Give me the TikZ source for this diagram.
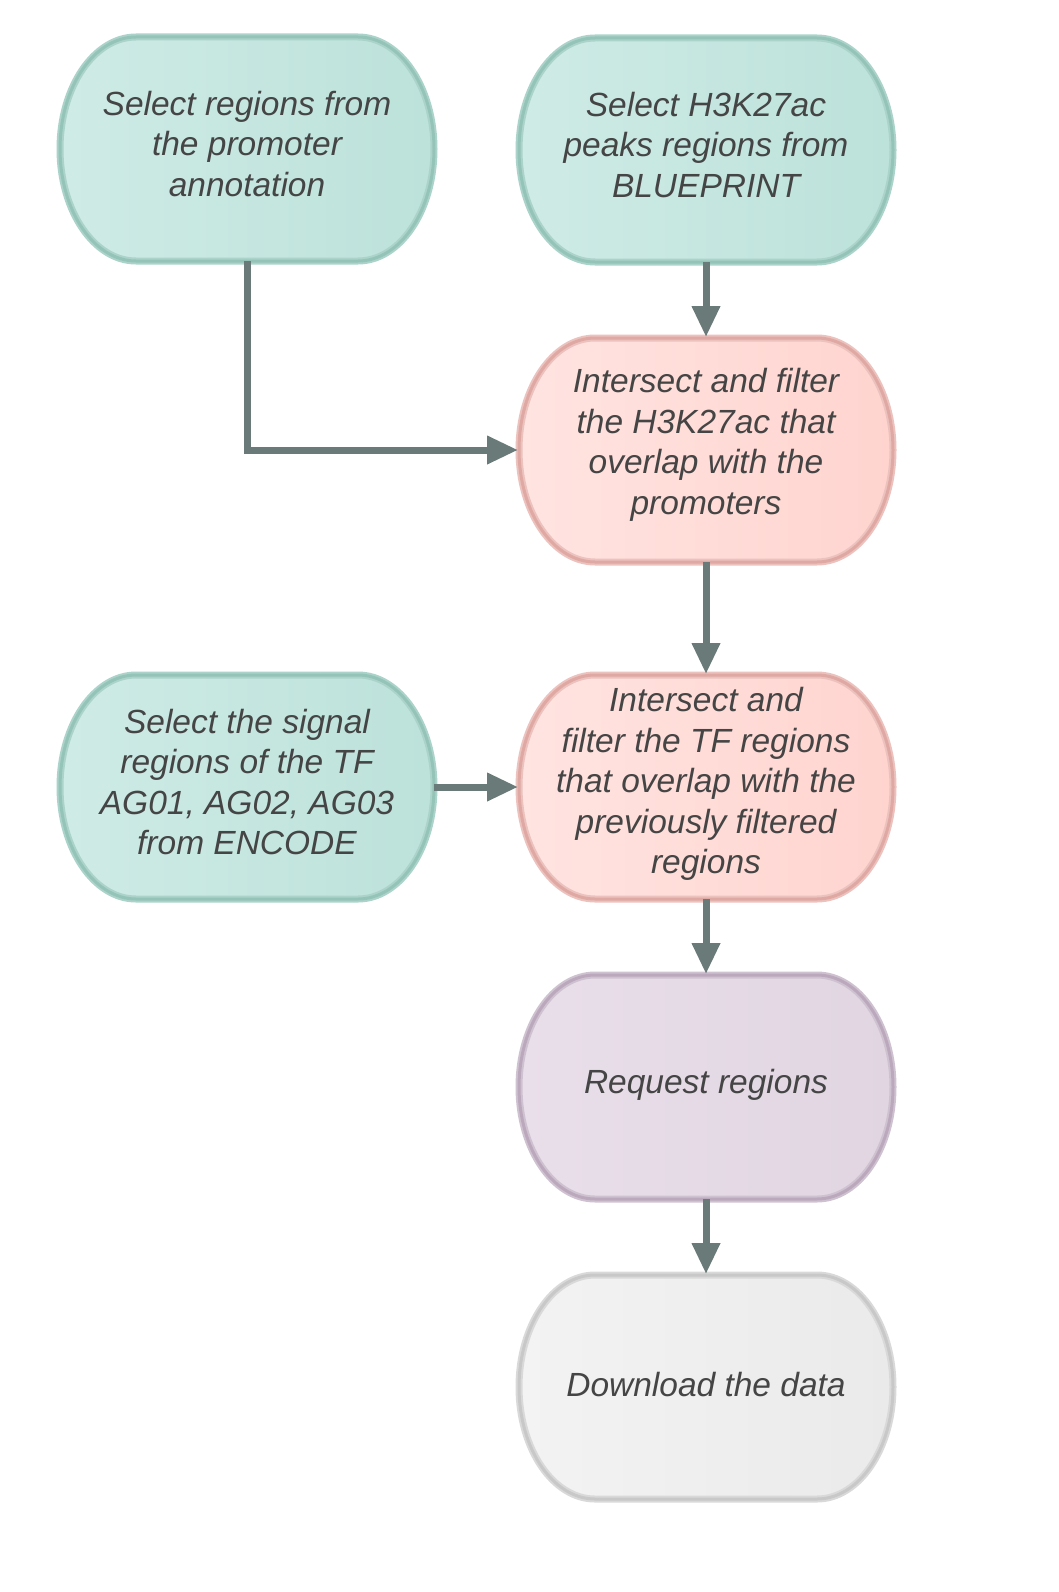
\documentclass[tikz,border=0pt]{standalone}
\usepackage{fontspec}
\setmainfont{Liberation Sans}
\usetikzlibrary{arrows.meta}
\definecolor{tealL}{HTML}{CFEBE6}
\definecolor{tealR}{HTML}{BCE2DA}
\definecolor{tealH}{HTML}{ABD3CA}
\definecolor{tealB}{HTML}{94C3B8}
\definecolor{pinkL}{HTML}{FFE4E1}
\definecolor{pinkR}{HTML}{FFD4CF}
\definecolor{pinkH}{HTML}{EBC2BE}
\definecolor{pinkB}{HTML}{E0A8A3}
\definecolor{purpL}{HTML}{E9DFEA}
\definecolor{purpR}{HTML}{E0D5E1}
\definecolor{purpH}{HTML}{CFC2D0}
\definecolor{purpB}{HTML}{BBA8BD}
\definecolor{grayL}{HTML}{F3F3F3}
\definecolor{grayR}{HTML}{EAEAEA}
\definecolor{grayH}{HTML}{D9D9D9}
\definecolor{grayB}{HTML}{C8C8C8}
\definecolor{arrowc}{HTML}{6A7A78}
\definecolor{textc}{HTML}{454545}
\newcommand{\steppath}[2]{(#1-111,#2+112) -- (#1+111,#2+112) arc[start angle=90,end angle=-90,x radius=76,y radius=112] -- (#1-111,#2-112) arc[start angle=270,end angle=90,x radius=76,y radius=112] -- cycle}
\newcommand{\drawstep}[3]{%
  \path[left color=#3L, right color=#3R, draw=#3H, line width=7] \steppath{#1}{#2};
  \path[draw=#3B, line width=3] \steppath{#1}{#2};
}
\tikzset{
  stepnode/.style={minimum width=374pt, minimum height=224pt, inner sep=0pt, outer sep=0pt},
  steptext/.style={inner sep=0pt, yshift=5pt, align=center, text=textc,
    font=\fontsize{33.5}{40.5}\selectfont\itshape},
  flowarrow/.style={draw=arrowc, line width=7pt, line join=miter,
    -{Triangle[width=27pt,length=31pt]}, shorten >=1pt}
}
\begin{document}
\begin{tikzpicture}[x=1pt,y=1pt]
\useasboundingbox (0,0) rectangle (1059,-1592);
\drawstep{247}{-149}{teal}
\drawstep{706}{-150}{teal}
\drawstep{706}{-450}{pink}
\drawstep{706}{-787}{pink}
\drawstep{247}{-787}{teal}
\drawstep{706}{-1087}{purp}
\drawstep{706}{-1387}{gray}
\node[stepnode, label={[steptext, name=Atxt]center:Select regions from\\the promoter\\annotation}] (A) at (247,-149) {};
\node[stepnode, label={[steptext, name=Btxt]center:Select H3K27ac\\peaks regions from\\BLUEPRINT}] (B) at (706,-150) {};
\node[stepnode, label={[steptext, name=Ctxt]center:Intersect and filter\\the H3K27ac that\\overlap with the\\promoters}] (C) at (706,-450) {};
\node[stepnode, label={[steptext, name=Dtxt, yshift=-2pt]center:Intersect and\\filter the TF regions\\that overlap with the\\previously filtered\\regions}] (D) at (706,-787) {};
\node[stepnode, label={[steptext, name=Etxt]center:Select the signal\\regions of the TF\\AG01, AG02, AG03\\from ENCODE}] (E) at (247,-787) {};
\node[stepnode, label={[steptext, name=Ftxt, yshift=-3pt]center:Request regions}] (F) at (706,-1087) {};
\node[stepnode, label={[steptext, name=Gtxt, yshift=-3pt]center:Download the data}] (G) at (706,-1387) {};
\draw[flowarrow] (A.south) |- (C.west);
\draw[flowarrow] (B.south) -- (C.north);
\draw[flowarrow] (C.south) -- (D.north);
\draw[flowarrow] (E.east) -- (D.west);
\draw[flowarrow] (D.south) -- (F.north);
\draw[flowarrow] (F.south) -- (G.north);
\end{tikzpicture}
\end{document}
